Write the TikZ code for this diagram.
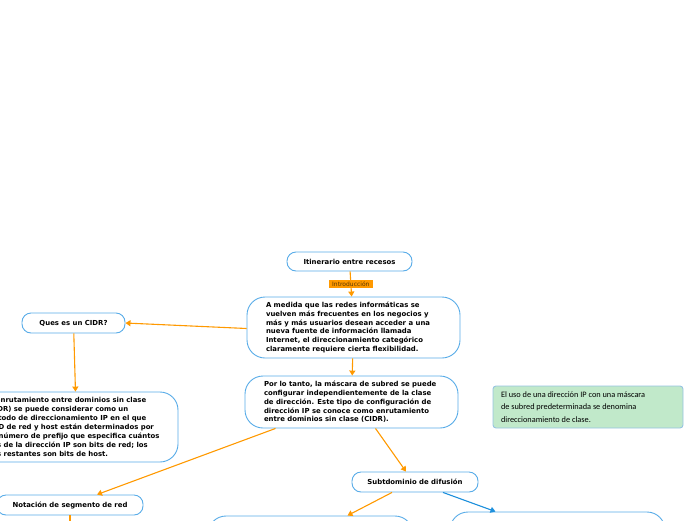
\documentclass[tikz,border=0pt]{standalone}
\usepackage{fontspec}
\setmainfont{DejaVu Sans}
\newfontfamily\greenfont{Carlito}
\usetikzlibrary{arrows.meta}
\definecolor{bordeazul}{RGB}{88,172,232}
\definecolor{naranja}{RGB}{255,153,0}
\definecolor{azulflecha}{RGB}{30,144,220}
\definecolor{verdeclaro}{RGB}{193,233,202}
\definecolor{bordeverde}{RGB}{150,195,225}
\tikzset{
  tema/.style={draw=bordeazul, line width=0.9pt, fill=white, rounded corners=9pt,
    font=\fontsize{6.9pt}{8pt}\selectfont\bfseries, inner sep=0pt},
  texto/.style={draw=bordeazul, line width=0.9pt, fill=white, rounded corners=18pt,
    font=\fontsize{6.9pt}{8.7pt}\selectfont\bfseries, align=left, inner sep=0pt},
  flecha/.style={draw=naranja, line width=1.1pt, -{Triangle[length=5pt,width=6pt]}},
}
\begin{document}
\begin{tikzpicture}[x=1pt,y=-1pt]
    % fondo
    \useasboundingbox (0,0) rectangle (696,520);
    \clip (0,0) rectangle (696,520);
    % nodos
    \node[tema, minimum width=125pt, minimum height=19pt] (itin) at (349.5,261.5) {Itinerario entre recesos};
    \node[texto, minimum width=213pt, minimum height=61pt] (medida) at (353.5,327.5)
      {\parbox{175pt}{A medida que las redes informáticas se\\
      vuelven más frecuentes en los negocios y\\
      más y más usuarios desean acceder a una\\
      nueva fuente de información llamada\\
      Internet, el direccionamiento categórico\\
      claramente requiere cierta flexibilidad.}};
    \node[texto, minimum width=213pt, minimum height=52pt] (tanto) at (351.5,402)
      {\parbox{175pt}{Por lo tanto, la máscara de subred se puede\\
      configurar independientemente de la clase\\
      de dirección. Este tipo de configuración de\\
      dirección IP se conoce como enrutamiento\\
      entre dominios sin clase (CIDR).}};
    \node[tema, minimum width=103pt, minimum height=20pt] (ques) at (73.5,323) {Ques es un CIDR?};
    \node[texto, minimum width=203pt, minimum height=70pt] (cidr) at (76.5,427)
      {\parbox{180pt}{\baselineskip=8.9pt El enrutamiento entre dominios sin clase\\
      (CIDR) se puede considerar como un\\
      método de direccionamiento IP en el que\\
      el ID de red y host están determinados por\\
      un número de prefijo que especifica cuántos\\
      bits de la dirección IP son bits de red; los\\
      bits restantes son bits de host.}};
    \node[draw=bordeverde, line width=0.9pt, fill=verdeclaro, rounded corners=3pt,
      minimum width=190pt, minimum height=42pt, inner sep=0pt, align=left] (clase) at (588,407)
      {\parbox{174pt}{\greenfont\fontsize{8.3pt}{12.5pt}\selectfont
      El uso de una dirección IP con una máscara\\
      de subred predeterminada se denomina\\
      direccionamiento de clase.}};
    \node[tema, minimum width=146pt, minimum height=20pt] (notacion) at (70,505) {Notación de segmento de red};
    \node[tema, minimum width=126pt, minimum height=20pt] (subt) at (415,482) {Subtdominio de difusión};
    \node[texto, minimum width=205pt, minimum height=40pt] (abajoizq) at (310.5,536) {};
    \node[texto, minimum width=215pt, minimum height=40pt] (abajoder) at (557.5,532) {};
    \coordinate (salida) at (70,545);
    % conectores
    \draw[flecha] (itin) -- node[fill=naranja, text=black!65!naranja, inner xsep=3pt, inner ysep=2pt,
      font=\fontsize{6pt}{7pt}\selectfont] {Introducción} (medida);
    \draw[flecha] ([yshift=-1pt]medida.west) -- (ques.east);
    \draw[flecha] (medida) -- (tanto);
    \draw[flecha] (ques) -- (cidr);
    \draw[flecha] ([xshift=-76pt]tanto.south) -- ([xshift=27pt]notacion.north);
    \draw[flecha] ([xshift=24pt]tanto.south) -- ([xshift=-9pt]subt.north);
    \draw[flecha] ([xshift=-23pt]subt.south) -- ([xshift=37pt]abajoizq.north);
    \draw[azulflecha, line width=1.1pt, -{Triangle[length=5pt,width=6pt]}]
      ([xshift=28pt]subt.south) -- ([xshift=-62pt]abajoder.north);
    \draw[flecha] (notacion) -- (salida);
\end{tikzpicture}
\end{document}
